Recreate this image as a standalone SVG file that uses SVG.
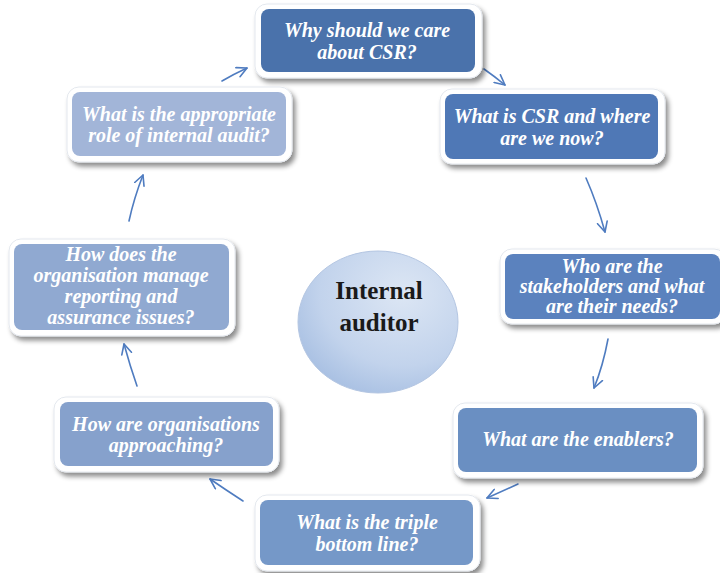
<svg xmlns="http://www.w3.org/2000/svg" width="720" height="573" viewBox="0 0 720 573">
  <defs>
    <style>
      .frame { fill: #ffffff; stroke: #e4e8ee; stroke-width: 1; filter: url(#shadow); }
      .q { font-family: 'Liberation Serif', 'DejaVu Serif', serif; font-size: 20px; font-weight: 700; font-style: italic; fill: #ffffff; text-anchor: middle; }
      .hub { font-family: 'Liberation Serif', 'DejaVu Serif', serif; font-size: 25px; font-weight: 700; fill: #1a1a1a; text-anchor: middle; }
      .link { fill: none; stroke: #4f7cc0; stroke-width: 1.6; stroke-linecap: round; marker-end: url(#chev); }
    </style>
    <filter id="shadow" x="-10%" y="-20%" width="125%" height="150%">
      <feDropShadow dx="3" dy="4" stdDeviation="2.5" flood-color="#000000" flood-opacity="0.45"/>
    </filter>
    <radialGradient id="hubFill" cx="0.65" cy="0.3" r="0.85">
      <stop offset="0" stop-color="#dce6f4"/>
      <stop offset="0.6" stop-color="#c2d3ec"/>
      <stop offset="1" stop-color="#9fb9df"/>
    </radialGradient>
    <marker id="chev" viewBox="0 0 12 12" refX="11" refY="6" markerWidth="12" markerHeight="12" markerUnits="userSpaceOnUse" orient="auto">
      <path d="M1,1 L11,6 L1,11" fill="none" stroke="#4f7cc0" stroke-width="1.6" stroke-linecap="round" stroke-linejoin="round"/>
    </marker>
  </defs>

  <rect width="720" height="573" fill="#ffffff"/>

  <!-- connectors -->
  <g id="connectors">
    <path class="link" d="M484,69 Q494,76 505,85"/>
    <path class="link" d="M586,178 Q597,203 605,232"/>
    <path class="link" d="M608,339 Q603,366 594,388"/>
    <path class="link" d="M518,484 Q503,491 487,498"/>
    <path class="link" d="M243,501 Q226,490 210,479"/>
    <path class="link" d="M137,386 Q130,366 124,344"/>
    <path class="link" d="M129,221 Q134,198 143,175"/>
    <path class="link" d="M222,81 Q234,74 247,68"/>
  </g>

  <!-- hub -->
  <g id="hub">
    <ellipse cx="378" cy="322" rx="80" ry="71" fill="url(#hubFill)" stroke="#b4c6e2" stroke-width="1"/>
    <text class="hub" x="379" y="299">Internal</text>
    <text class="hub" x="379" y="331">auditor</text>
  </g>

  <g id="n1">
    <rect class="frame" x="255" y="4" width="227" height="74" rx="12"/>
    <rect x="261" y="9" width="214" height="63" rx="8" fill="#4a72ab"/>
    <text class="q" x="367" y="37">Why should we care</text>
    <text class="q" x="367" y="59">about CSR?</text>
  </g>

  <g id="n2">
    <rect class="frame" x="440" y="89" width="225" height="75" rx="12"/>
    <rect x="445" y="94" width="213" height="65" rx="8" fill="#4f78b6"/>
    <text class="q" x="552" y="123">What is CSR and where</text>
    <text class="q" x="552" y="145">are we now?</text>
  </g>

  <g id="n3">
    <rect class="frame" x="500" y="249" width="226" height="75" rx="12"/>
    <rect x="505" y="254" width="215" height="65" rx="8" fill="#5b82be"/>
    <text class="q" x="612" y="273">Who are the</text>
    <text class="q" x="612" y="293">stakeholders and what</text>
    <text class="q" x="612" y="313">are their needs?</text>
  </g>

  <g id="n4">
    <rect class="frame" x="453" y="403" width="250" height="75" rx="12"/>
    <rect x="458" y="408" width="239" height="64" rx="8" fill="#6a8fc2"/>
    <text class="q" x="578" y="446">What are the enablers?</text>
  </g>

  <g id="n5">
    <rect class="frame" x="255" y="495" width="225" height="76" rx="12"/>
    <rect x="260" y="500" width="213" height="65" rx="8" fill="#7598c8"/>
    <text class="q" x="367" y="529">What is the triple</text>
    <text class="q" x="367" y="551">bottom line?</text>
  </g>

  <g id="n6">
    <rect class="frame" x="54" y="397" width="225" height="75" rx="12"/>
    <rect x="60" y="402" width="213" height="64" rx="8" fill="#86a1cc"/>
    <text class="q" x="166" y="431">How are organisations</text>
    <text class="q" x="166" y="452">approaching?</text>
  </g>

  <g id="n7">
    <rect class="frame" x="9" y="239" width="226" height="97" rx="12"/>
    <rect x="14" y="244" width="215" height="86" rx="8" fill="#90a9d1"/>
    <text class="q" x="121" y="261">How does the</text>
    <text class="q" x="121" y="282">organisation manage</text>
    <text class="q" x="121" y="303">reporting and</text>
    <text class="q" x="121" y="324">assurance issues?</text>
  </g>

  <g id="n8">
    <rect class="frame" x="67" y="87" width="225" height="75" rx="12"/>
    <rect x="72" y="92" width="214" height="64" rx="8" fill="#a2b5d8"/>
    <text class="q" x="179" y="121">What is the appropriate</text>
    <text class="q" x="179" y="142">role of internal audit?</text>
  </g>
</svg>
